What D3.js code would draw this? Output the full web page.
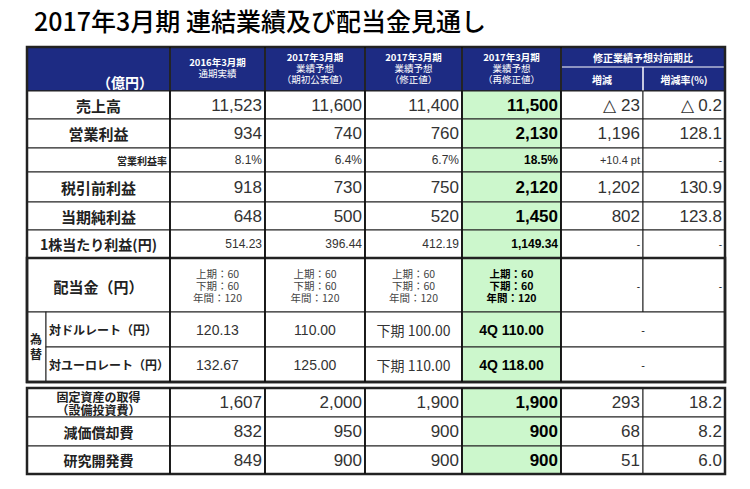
<!DOCTYPE html>
<html><head><meta charset="utf-8">
<script src="https://cdn.jsdelivr.net/npm/d3@7"></script>
<style>body{margin:0;background:#fff}</style>
</head><body><div id="chart"></div>
<script>
// data
const title = "2017年3月期 連結業績及び配当金見通し";
const colHeaders = [["2016年3月期", "通期実績"], ["2017年3月期", "業績予想", "（期初公表値）"],
  ["2017年3月期", "業績予想", "（修正値）"], ["2017年3月期", "業績予想", "（再修正値）"]];
const compHeader = "修正業績予想対前期比";
const compSub = ["増減", "増減率(%)"];
const rowLabels = ["売上高", "営業利益", "営業利益率", "税引前利益", "当期純利益", "1株当たり利益(円)"];
const actual2016 = ["11,523", "934", "8.1%", "918", "648", "514.23"];
const initial2017 = ["11,600", "740", "6.4%", "730", "500", "396.44"];
const revised2017 = ["11,400", "760", "6.7%", "750", "520", "412.19"];
const rerevised2017 = ["11,500", "2,130", "18.5%", "2,120", "1,450", "1,149.34"];
const diff = ["△ 23", "1,196", "+10.4 pt", "1,202", "802", "-"];
const diffPct = ["△ 0.2", "128.1", "-", "130.9", "123.8", "-"];
const dividend = [["上期：60", "下期：60", "年間：120"], ["上期：60", "下期：60", "年間：120"],
  ["上期：60", "下期：60", "年間：120"], ["上期：60", "下期：60", "年間：120"]];
const fxLabels = ["対ドルレート（円）", "対ユーロレート（円）"];
const fxValues = [["120.13", "110.00", "下期 100.00", "4Q 110.00"], ["132.67", "125.00", "下期 110.00", "4Q 118.00"]];
const capexLabels = [["固定資産の取得", "（設備投資費）"], ["減価償却費"], ["研究開発費"]];
const capexValues = [["1,607", "2,000", "1,900", "1,900", "293", "18.2"],
  ["832", "950", "900", "900", "68", "8.2"], ["849", "900", "900", "900", "51", "6.0"]];

const W = 750, H = 489;
const NAVY = "#1d2b83", GREEN = "#ccf7cc";
const JP = "'Noto Sans CJK JP', sans-serif", NUM = "'Liberation Sans', Arial, sans-serif";
const svg = d3.select("#chart").append("svg").attr("width", W).attr("height", H);

const xs = [27, 170, 265, 365, 462, 561, 643, 725];
const rowY = d3.scaleOrdinal().domain(d3.range(7)).range([91, 119, 148, 172, 202, 230, 258]);

svg.append("text").attr("x", 34).attr("y", 31).attr("font-family", JP).attr("font-size", 25)
  .attr("font-weight", 500).attr("fill", "#000").text(title);

function rect(x0, y0, x1, y1, fill, sw) {
  svg.append("rect").attr("x", x0).attr("y", y0).attr("width", x1 - x0).attr("height", y1 - y0)
    .attr("fill", fill || "none").attr("stroke", "#222").attr("stroke-width", sw || 1);
}
function txt(x, y, s, o) {
  o = o || {};
  svg.append("text").attr("x", x).attr("y", y).attr("text-anchor", o.a || "middle")
    .attr("dominant-baseline", "central").attr("font-family", o.f || NUM)
    .attr("font-size", o.s || 16).attr("font-weight", o.b ? 700 : 400)
    .attr("fill", o.c || "#222").text(s);
}

// header
rect(xs[0], 47, xs[7], 91, NAVY, 1.5);
for (let i = 1; i < 7; i++) {
  svg.append("line").attr("x1", xs[i]).attr("x2", xs[i]).attr("y1", i == 6 ? 67 : 47).attr("y2", 91)
    .attr("stroke", "#fff").attr("stroke-width", 1.5);
}
svg.append("line").attr("x1", xs[5]).attr("x2", xs[7]).attr("y1", 67).attr("y2", 67).attr("stroke", "#fff");
txt(125, 82, "（億円）", { f: JP, s: 14, b: 1, c: "#fff" });
colHeaders.forEach((h, i) => {
  const cx = (xs[i + 1] + xs[i + 2]) / 2, y0 = h.length == 2 ? 62 : 57;
  h.forEach((s, j) => txt(cx, y0 + j * 11, s, { f: JP, s: 9.5, b: j == 0, c: "#fff" }));
});
txt((xs[5] + xs[7]) / 2, 57, compHeader, { f: JP, s: 10, b: 1, c: "#fff" });
compSub.forEach((s, i) => txt((xs[5 + i] + xs[6 + i]) / 2, 79, s, { f: JP, s: 10, b: 1, c: "#fff" }));

// main rows
const cols = [actual2016, initial2017, revised2017, rerevised2017, diff, diffPct];
rowLabels.forEach((lab, r) => {
  const y0 = rowY(r), y1 = rowY(r + 1), cy = (y0 + y1) / 2, small = r == 2;
  for (let c = 0; c < 7; c++) rect(xs[c], y0, xs[c + 1], y1, c == 4 ? GREEN : "#fff");
  if (small) txt(xs[1] - 3, cy, lab, { f: JP, s: 10, b: 1, a: "end" });
  else txt((xs[0] + xs[1]) / 2, cy, lab, { f: JP, s: r == 5 ? 14 : 15, b: 1 });
  cols.forEach((col, c) => {
    const v = col[r], green = c == 3;
    const s = (r == 2 || r == 5) ? 12 : 17;
    txt(xs[c + 2] - 3, cy, v, { s: v == "-" ? 10 : (v.indexOf("pt") > 0 ? 11 : s), b: green, a: "end", c: green ? "#000" : "#333" });
  });
});

// dividend row
const dY0 = 258, dY1 = 312;
rect(xs[0], dY0, xs[1], dY1, "#fff");
txt((xs[0] + xs[1]) / 2, 286, "配当金（円）", { f: JP, s: 15, b: 1 });
for (let c = 1; c < 7; c++) rect(xs[c], dY0, xs[c + 1], dY1, c == 4 ? GREEN : "#fff");
dividend.forEach((d, i) => d.forEach((s, j) =>
  txt((xs[i + 1] + xs[i + 2]) / 2, 273 + j * 12, s, { f: JP, s: 10.5, b: i == 3, c: i == 3 ? "#000" : "#444" })));
txt(xs[6] - 3, 286, "-", { s: 10, a: "end" });
txt(xs[7] - 3, 286, "-", { s: 10, a: "end" });

// fx rows
const fxY = [312, 347, 382];
rect(xs[0], 312, 46, 382, "#fff");
txt(36, 338, "為", { f: JP, s: 12, b: 1 });
txt(36, 353, "替", { f: JP, s: 12, b: 1 });
fxLabels.forEach((lab, r) => {
  const y0 = fxY[r], y1 = fxY[r + 1], cy = (y0 + y1) / 2;
  rect(46, y0, xs[1], y1, "#fff");
  txt(49, cy, lab, { f: JP, s: 12, b: 1, a: "start" });
  for (let c = 1; c < 5; c++) rect(xs[c], y0, xs[c + 1], y1, c == 4 ? GREEN : "#fff");
  rect(xs[5], y0, xs[7], y1, "#fff");
  fxValues[r].forEach((v, c) => txt((xs[c + 1] + xs[c + 2]) / 2, cy, v,
    { f: v.indexOf("下期") >= 0 ? JP : NUM, s: 14, b: c == 3, c: c == 3 ? "#000" : "#333" }));
  txt((xs[5] + xs[7]) / 2, cy, "-", { s: 11 });
});
rect(xs[0], 258, xs[7], 382, "none", 2.5);
rect(xs[0], 47, xs[7], 382, "none", 2.5);

// capex table
const cY = [388, 417, 446, 474];
capexLabels.forEach((lab, r) => {
  const y0 = cY[r], y1 = cY[r + 1], cy = (y0 + y1) / 2;
  for (let c = 0; c < 7; c++) rect(xs[c], y0, xs[c + 1], y1, c == 4 ? GREEN : "#fff");
  lab.forEach((s, j) => txt((xs[0] + xs[1]) / 2, cy + (j - (lab.length - 1) / 2) * 13, s, { f: JP, s: lab.length > 1 ? 12 : 14, b: 1 }));
  capexValues[r].forEach((v, c) => txt(xs[c + 2] - 3, cy, v, { s: 17, b: c == 3, a: "end", c: c == 3 ? "#000" : "#333" }));
});
rect(xs[0], 388, xs[7], 474, "none", 2.5);
[xs[1], xs[2], xs[3], xs[4], xs[5]].forEach(x => {
  [[47, 382], [388, 474]].forEach(([a, b]) => svg.append("line").attr("x1", x).attr("x2", x)
    .attr("y1", a).attr("y2", b).attr("stroke", "#111").attr("stroke-width", 1.8));
});
</script></body></html>
